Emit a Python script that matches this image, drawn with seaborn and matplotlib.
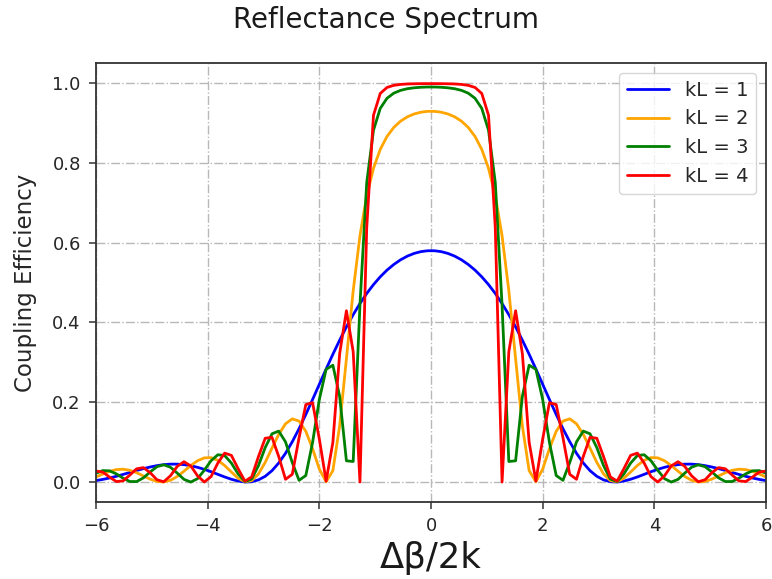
import matplotlib
matplotlib.use("Agg")
import matplotlib.pyplot as plt
import seaborn as sns
import pandas as pd

# detuning samples (Δβ/2k)
x_vals = [
    -6.0, -5.8788, -5.7576, -5.6364, -5.5152, -5.3939, -5.2727, -5.1515, -5.0303, -4.9091,
    -4.7879, -4.6667, -4.5455, -4.4242, -4.3030, -4.1818, -4.0606, -3.9394, -3.8182, -3.6970,
    -3.5758, -3.4545, -3.3333, -3.2121, -3.0909, -2.9697, -2.8485, -2.7273, -2.6061, -2.4848,
    -2.3636, -2.2424, -2.1212, -2.0, -1.8788, -1.7576, -1.6364, -1.5152, -1.3939, -1.2727,
    -1.1515, -1.0303, -0.9091, -0.7879, -0.6667, -0.5455, -0.4242, -0.3030, -0.1818, -0.0606,
    0.0606, 0.1818, 0.3030, 0.4242, 0.5455, 0.6667, 0.7879, 0.9091, 1.0303, 1.1515,
    1.2727, 1.3939, 1.5152, 1.6364, 1.7576, 1.8788, 2.0, 2.1212, 2.2424, 2.3636,
    2.4848, 2.6061, 2.7273, 2.8485, 2.9697, 3.0909, 3.2121, 3.3333, 3.4545, 3.5758,
    3.6970, 3.8182, 3.9394, 4.0606, 4.1818, 4.3030, 4.4242, 4.5455, 4.6667, 4.7879,
    4.9091, 5.0303, 5.1515, 5.2727, 5.3939, 5.5152, 5.6364, 5.7576, 5.8788, 6.0,
]

kl1 = [
    0.0037, 0.0066, 0.0102, 0.0144, 0.0191, 0.0240, 0.0290, 0.0336, 0.0377, 0.0411,
    0.0436, 0.0449, 0.0449, 0.0436, 0.0409, 0.0369, 0.0318, 0.0258, 0.0193, 0.0128,
    0.0070, 0.0025, 0.0001, 0.0008, 0.0054, 0.0144, 0.0285, 0.0478, 0.0721, 0.1010,
    0.1337, 0.1694, 0.2069, 0.2451, 0.2832, 0.3203, 0.3556, 0.3888, 0.4195, 0.4474,
    0.4726, 0.4949, 0.5144, 0.5312, 0.5453, 0.5570, 0.5662, 0.5730, 0.5775, 0.5797,
    0.5797, 0.5775, 0.5730, 0.5662, 0.5570, 0.5453, 0.5312, 0.5144, 0.4949, 0.4726,
    0.4474, 0.4195, 0.3888, 0.3556, 0.3203, 0.2832, 0.2451, 0.2069, 0.1694, 0.1337,
    0.1010, 0.0721, 0.0478, 0.0285, 0.0144, 0.0054, 0.0008, 0.0001, 0.0025, 0.0070,
    0.0128, 0.0193, 0.0258, 0.0318, 0.0369, 0.0409, 0.0436, 0.0449, 0.0449, 0.0436,
    0.0411, 0.0377, 0.0336, 0.0290, 0.0240, 0.0191, 0.0144, 0.0102, 0.0066, 0.0037,
]

kl2 = [
    0.0127, 0.0201, 0.0268, 0.0312, 0.0322, 0.0294, 0.0234, 0.0153, 0.0073, 0.0015,
    0.0002, 0.0044, 0.0140, 0.0272, 0.0414, 0.0534, 0.0606, 0.0612, 0.0545, 0.0416,
    0.0251, 0.0095, 0.0006, 0.0034, 0.0202, 0.0493, 0.0850, 0.1196, 0.1460, 0.1584,
    0.1528, 0.1271, 0.0835, 0.0324, 0.0006, 0.0287, 0.1405, 0.3090, 0.4794, 0.6173,
    0.7173, 0.7864, 0.8338, 0.8663, 0.8888, 0.9045, 0.9153, 0.9225, 0.9270, 0.9291,
    0.9291, 0.9270, 0.9225, 0.9153, 0.9045, 0.8888, 0.8663, 0.8338, 0.7864, 0.7173,
    0.6173, 0.4794, 0.3090, 0.1405, 0.0287, 0.0006, 0.0324, 0.0835, 0.1271, 0.1528,
    0.1584, 0.1460, 0.1196, 0.0850, 0.0493, 0.0202, 0.0034, 0.0006, 0.0095, 0.0251,
    0.0416, 0.0545, 0.0612, 0.0606, 0.0534, 0.0414, 0.0272, 0.0140, 0.0044, 0.0002,
    0.0015, 0.0073, 0.0153, 0.0234, 0.0294, 0.0322, 0.0312, 0.0268, 0.0201, 0.0127,
]

kl3 = [
    0.0222, 0.0287, 0.0281, 0.0205, 0.0096, 0.0013, 0.0012, 0.0105, 0.0253, 0.0384,
    0.0433, 0.0371, 0.0224, 0.0067, 0.0000, 0.0085, 0.0297, 0.0536, 0.0684, 0.0665,
    0.0476, 0.0202, 0.0013, 0.0074, 0.0411, 0.0865, 0.1209, 0.1277, 0.1007, 0.0488,
    0.0043, 0.0164, 0.0995, 0.2071, 0.2826, 0.2928, 0.2148, 0.0532, 0.0515, 0.4437,
    0.7504, 0.8818, 0.9366, 0.9619, 0.9747, 0.9817, 0.9858, 0.9881, 0.9895, 0.9901,
    0.9901, 0.9895, 0.9881, 0.9858, 0.9817, 0.9747, 0.9619, 0.9366, 0.8818, 0.7504,
    0.4437, 0.0515, 0.0532, 0.2148, 0.2928, 0.2826, 0.2071, 0.0995, 0.0164, 0.0043,
    0.0488, 0.1007, 0.1277, 0.1209, 0.0865, 0.0411, 0.0074, 0.0013, 0.0202, 0.0476,
    0.0665, 0.0684, 0.0536, 0.0297, 0.0085, 0.0000, 0.0067, 0.0224, 0.0371, 0.0433,
    0.0384, 0.0253, 0.0105, 0.0012, 0.0013, 0.0096, 0.0205, 0.0281, 0.0287, 0.0222,
]

kl4 = [
    0.0275, 0.0249, 0.0124, 0.0012, 0.0029, 0.0176, 0.0332, 0.0362, 0.0235, 0.0058,
    0.0007, 0.0158, 0.0393, 0.0510, 0.0404, 0.0155, 0.0001, 0.0137, 0.0476, 0.0725,
    0.0669, 0.0333, 0.0023, 0.0129, 0.0637, 0.1098, 0.1120, 0.0639, 0.0069, 0.0194,
    0.1110, 0.1941, 0.1988, 0.1075, 0.0024, 0.0997, 0.3218, 0.4294, 0.3267, 0.0001,
    0.6370, 0.9193, 0.9740, 0.9890, 0.9943, 0.9966, 0.9977, 0.9982, 0.9985, 0.9986,
    0.9986, 0.9985, 0.9982, 0.9977, 0.9966, 0.9943, 0.9890, 0.9740, 0.9193, 0.6370,
    0.0001, 0.3267, 0.4294, 0.3218, 0.0997, 0.0024, 0.1075, 0.1988, 0.1941, 0.1110,
    0.0194, 0.0069, 0.0639, 0.1120, 0.1098, 0.0637, 0.0129, 0.0023, 0.0333, 0.0669,
    0.0725, 0.0476, 0.0137, 0.0001, 0.0155, 0.0404, 0.0510, 0.0393, 0.0158, 0.0007,
    0.0058, 0.0235, 0.0362, 0.0332, 0.0176, 0.0029, 0.0012, 0.0124, 0.0249, 0.0275,
]

series = [("kL = 1", kl1, "blue"), ("kL = 2", kl2, "orange"),
          ("kL = 3", kl3, "green"), ("kL = 4", kl4, "red")]

sns.set_style("ticks", {"axes.grid": True, "grid.linestyle": "-.",
                        "grid.color": "#b8b8b8", "axes.edgecolor": "#333333"})
plt.rcParams["font.family"] = ["DejaVu Sans"]

fig = plt.figure(figsize=(7.72, 5.79), dpi=100)
ax = fig.add_axes([0.1244, 0.133, 0.8678, 0.758])

for name, vals, col in series:
    df = pd.DataFrame({"x": x_vals, "y": vals})
    sns.lineplot(data=df, x="x", y="y", color=col, linewidth=2, label=name,
                 estimator=None, sort=False, ax=ax)

ax.set_xlim(-6, 6)
ax.set_ylim(-0.05, 1.05)
ax.set_xticks([-6, -4, -2, 0, 2, 4, 6])
ax.set_yticks([0.0, 0.2, 0.4, 0.6, 0.8, 1.0])
ax.tick_params(labelsize=13, colors="#333333", labelcolor="#262626",
               length=5, width=1.1, pad=6)
for s in ax.spines.values():
    s.set_linewidth(1.3)
ax.grid(True, linestyle="-.", color="#b8b8b8", linewidth=1)

ax.set_xlabel("Δβ/2k", fontsize=25.5, labelpad=4, color="#1a1a1a")
ax.set_ylabel("Coupling Efficiency", fontsize=16.5, labelpad=11, color="#262626")
fig.suptitle("Reflectance Spectrum", fontsize=20, y=0.99, color="#1a1a1a")
ax.legend(loc="upper right", fontsize=14, handlelength=2.2)

fig.savefig("out.png", dpi=100)
